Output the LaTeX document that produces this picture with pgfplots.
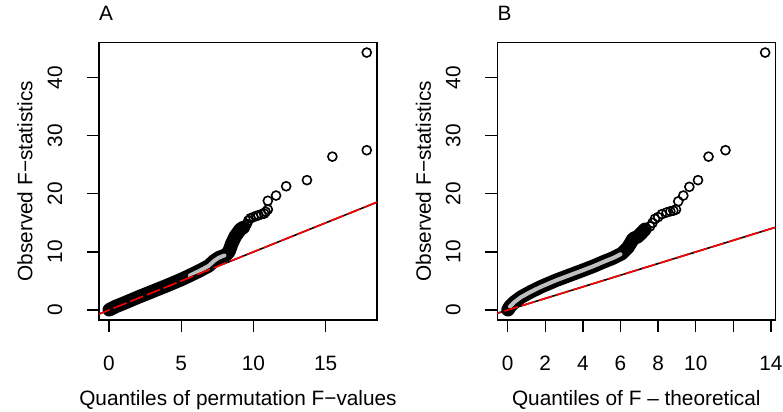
\documentclass[border=0pt]{standalone}
\usepackage{pgfplots}
\pgfplotsset{compat=1.18}
\usepackage{fontspec}
\setmainfont{Liberation Sans}
\definecolor{bandgrey}{RGB}{190,190,190}
\begin{document}
\begin{tikzpicture}[x=1bp,y=1bp]
\path[use as bounding box] (0,0) rectangle (783,411);
\pgfplotsset{
  qq/.style={
    width=278bp, height=277.3bp, scale only axis,
    axis line style={line width=1.3bp},
    every tick/.style={line width=1.3bp, black},
    ymin=-1.71, ymax=46.0,
    ytick={0,10,20,30,40},
    tick align=outside, major tick length=12bp,
    xtick pos=left, ytick pos=left,
    /pgf/number format/assume math mode=true,
    tick label style={font=\fontsize{20.8bp}{25bp}\selectfont, inner sep=0pt},
    yticklabel style={rotate=90, anchor=south},
    xticklabel style={anchor=north},
    yticklabel shift=24.5bp,
    xticklabel shift=24bp,
    label style={font=\fontsize{20.8bp}{25bp}\selectfont, inner sep=0pt},
    xlabel style={at={(axis description cs:0.5,-0.2524)}, anchor=north},
    ylabel style={at={(axis description cs:-0.266,0.5)}, anchor=center, rotate=0},
    title style={at={(axis description cs:0,1)}, anchor=base west, yshift=16.7bp, inner sep=0pt, font=\fontsize{20.8bp}{25bp}\selectfont},
    ylabel={Observed F−statistics},
  },
  band/.style={black, line width=13.5bp, line cap=round, line join=round},
  inner/.style={bandgrey, line width=4bp, line cap=round, line join=round},
  pts/.style={only marks, mark=o, mark size=4.5bp, mark options={line width=1.6bp, black}},
  refl/.style={black, line width=1.6bp},
  redl/.style={red, line width=1.6bp, dash pattern=on 14bp off 4bp},
}
% ---------------- Panel A ----------------
\begin{axis}[qq, at={(99bp,91bp)}, anchor=south west,
  xmin=-0.69, xmax=18.56, xtick={0,5,10,15},
  xlabel={Quantiles of permutation F−values}, title={A}]
\addplot[band] coordinates {(0.02,0.05) (0.5,0.65) (1,1.15) (2,2.2) (3,3.2) (4,4.2) (5,5.25) (5.6,5.95) (6.3,6.8) (6.9,7.6) (7.3,8.5) (7.6,9.0) (8.1,9.5) (8.3,10.0) (8.5,11.4) (8.75,12.7) (9.1,13.9) (9.3,14.2)};
\addplot[inner] coordinates {(5.6,5.95) (6.3,6.8) (6.9,7.6) (7.3,8.5) (7.6,9.0) (8.0,9.4)};
\addplot[pts] coordinates {(8.35,10.4) (8.42,10.9) (8.5,11.4) (8.58,11.9) (8.66,12.3) (8.75,12.7) (8.85,13.1) (8.95,13.5) (9.1,13.9) (9.25,14.2) (9.4,14.4) (9.55,14.8) (9.65,15.4) (9.8,15.8) (10.0,16.0) (10.2,16.2) (10.35,16.3) (10.55,16.5) (10.75,16.6) (10.85,16.9) (11.0,17.3) (11.0,18.8) (11.57,19.7) (12.27,21.3) (13.71,22.35) (15.47,26.4) (17.85,27.5) (17.85,44.3)};
\addplot[refl] coordinates {(-2,-2) (20,20)};
\addplot[redl] coordinates {(-2,-2) (20,20)};
\end{axis}
% ---------------- Panel B ----------------
\begin{axis}[qq, at={(497.3bp,91bp)}, anchor=south west,
  xmin=-0.55, xmax=14.23, xtick={0,2,4,6,8,10,12,14},
  xticklabels={0,2,4,6,8,10,,14},
  xlabel={Quantiles of F – theoretical}, title={B}]
\addplot[band] coordinates {(0.02,0.05) (0.12,0.6) (0.35,1.35) (0.7,2.2) (1.2,3.1) (1.8,4.05) (2.6,5.15) (3.3,6.0) (4.0,6.85) (4.6,7.6) (5.1,8.3) (5.6,8.95) (6.06,9.7) (6.4,10.8) (6.68,12.3) (6.9,12.6) (7.1,13.2) (7.3,13.9)};
\addplot[inner] coordinates {(0.12,0.6) (0.35,1.35) (0.7,2.2) (1.2,3.1) (1.8,4.05) (2.6,5.15) (3.3,6.0) (4.0,6.85) (4.6,7.6) (5.1,8.3) (5.6,8.95) (6.0,9.6)};
\addplot[pts] coordinates {(6.4,10.8) (6.6,11.7) (6.86,12.4) (7.1,13.2) (7.3,13.9) (7.57,14.4) (7.7,15.0) (7.83,15.7) (8.0,16.0) (8.2,16.5) (8.45,16.8) (8.65,17.0) (8.81,17.1) (8.95,17.3) (9.07,18.7) (9.34,19.7) (9.66,21.2) (10.12,22.35) (10.68,26.4) (11.58,27.5) (13.69,44.3)};
\addplot[refl] coordinates {(-2,-2) (20,20)};
\addplot[redl] coordinates {(-2,-2) (20,20)};
\end{axis}
\end{tikzpicture}
\end{document}
